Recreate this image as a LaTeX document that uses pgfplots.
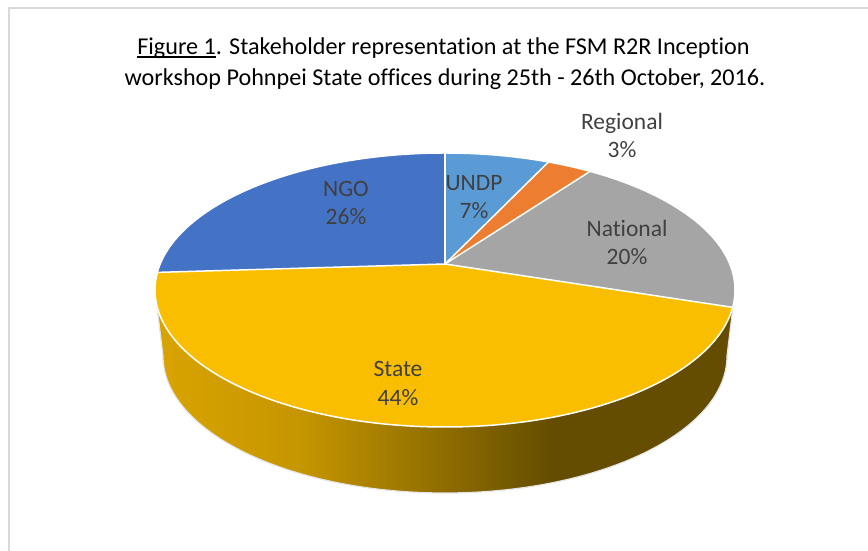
\documentclass[border=0pt]{standalone}
\usepackage{pgfplots}
\pgfplotsset{compat=1.18}
\usepackage{pgfplotstable}
\usepackage{fontspec}
\setmainfont{Carlito}[Ligatures=NoCommon]
\definecolor{cNGO}{HTML}{4472C4}
\definecolor{cUNDP}{HTML}{5B9BD5}
\definecolor{cReg}{HTML}{ED7D31}
\definecolor{cNat}{HTML}{A5A5A5}
\definecolor{cState}{HTML}{FABE00}
\definecolor{labelgray}{HTML}{404040}
\definecolor{framegray}{HTML}{D9D9D9}
\definecolor{edgegray}{HTML}{E4E4E4}
\definecolor{wa}{HTML}{D8A300}
\definecolor{wb}{HTML}{C69600}
\definecolor{wc}{HTML}{8E6C00}
\definecolor{wd}{HTML}{644C00}
\pgfdeclarehorizontalshading{wall}{100bp}{color(0bp)=(wa); color(26bp)=(wa); color(37.5bp)=(wb); color(50bp)=(wc); color(59.5bp)=(wd); color(100bp)=(wd)}

% share of each stakeholder group (percent), clockwise from 12 o'clock,
% with the centre of its label (picture pixels, y measured from the top)
\pgfplotstableread{
name     pct  lx   ly    col
UNDP     7    474  197   cUNDP
Regional 3    622  135.5 cReg
National 20   627  242.5 cNat
State    44   398  383.5 cState
NGO      26   346  203   cNGO
}\piedata

% perspective projection of the pie's rim: point at cumulative percent #1
\newcommand\piepoint[2]{%
  \pgfmathsetmacro\tmpt{3.6*#1}%
  \pgfmathsetmacro\tmpden{1+0.1898*cos(\tmpt)}%
  \pgfmathsetmacro\tmpX{284.7*sin(\tmpt)/\tmpden}%
  \pgfmathsetmacro\tmpY{132.07*cos(\tmpt)/\tmpden}%
  \pgfmathsetmacro\tmpa{445+\tmpX}\expandafter\xdef\csname #2ex\endcsname{\tmpa}%
  \pgfmathsetmacro\tmpa{287+\tmpY}\expandafter\xdef\csname #2ey\endcsname{\tmpa}%
  \pgfmathsetmacro\tmpa{445+4*\tmpX}\expandafter\xdef\csname #2fx\endcsname{\tmpa}%
  \pgfmathsetmacro\tmpa{287+4*\tmpY}\expandafter\xdef\csname #2fy\endcsname{\tmpa}%
}
\newcommand\ulfig[1]{\setbox0\hbox{#1}\rlap{\rule[-2.6pt]{\wd0}{1.3pt}}\box0}

\begin{document}
\begin{tikzpicture}
\begin{axis}[
  width=868pt, height=551pt, scale only axis,
  xmin=0, xmax=868, ymin=0, ymax=551,
  hide axis, clip=false,
]
% chart frame
\draw[framegray, line width=2pt] (axis cs:8.5,0) -- (axis cs:8.5,542.5) -- (axis cs:868,542.5);
% title
\node[anchor=base, font=\fontsize{24.15}{31}\selectfont] at (axis cs:443.5,496) {\ulfig{Figure 1}. Stakeholder representation at the FSM R2R Inception};
\node[anchor=base, font=\fontsize{24.15}{31}\selectfont] at (axis cs:445,465) {workshop Pohnpei State offices during 25th - 26th October, 2016.};

\pgfplotsextra{
  % side wall of the pie
  \shade[shading=wall] (axis cs:155,261) arc[start angle=180, end angle=360, x radius=290pt, y radius=137pt]
     -- (axis cs:727,195) arc[start angle=0, end angle=-180, x radius=282pt, y radius=137pt] -- cycle;
  \draw[edgegray, line width=1.2pt] (axis cs:155,261) -- (axis cs:163,195) arc[start angle=180, end angle=360, x radius=282pt, y radius=137pt] -- (axis cs:735,261);
  % top face slices
  \pgfplotstablegetrowsof{\piedata}
  \pgfmathtruncatemacro{\lastrow}{\pgfplotsretval-1}
  \gdef\cum{0}
  \begin{scope}
    \clip (axis cs:445,261) ellipse [x radius=290pt, y radius=137pt];
    \foreach \r in {0,...,\lastrow}{
      \pgfplotstablegetelem{\r}{pct}\of{\piedata}\let\pct=\pgfplotsretval
      \pgfplotstablegetelem{\r}{col}\of{\piedata}\let\col=\pgfplotsretval
      \pgfmathsetmacro{\pa}{\cum}
      \pgfmathsetmacro{\pb}{\cum+\pct}
      \pgfmathsetmacro{\pmid}{(\pa+\pb)/2}
      \piepoint{\pa}{A}\piepoint{\pmid}{M}\piepoint{\pb}{B}
      \fill[fill=\col] (axis cs:445,287) -- (axis cs:\Afx,\Afy) -- (axis cs:\Mfx,\Mfy) -- (axis cs:\Bfx,\Bfy) -- cycle;
      \xdef\cum{\pb}
    }
  \end{scope}
  \draw[white, line width=1.5pt] (axis cs:445,261) ellipse [x radius=290pt, y radius=137pt];
  \gdef\cum{0}
  \foreach \r in {0,...,\lastrow}{
    \pgfplotstablegetelem{\r}{pct}\of{\piedata}\let\pct=\pgfplotsretval
    \piepoint{\cum}{A}
    \draw[white, line width=1.5pt] (axis cs:445,287) -- (axis cs:\Aex,\Aey);
    \pgfmathsetmacro{\pb}{\cum+\pct}
    \xdef\cum{\pb}
  }
  % data labels
  \foreach \r in {0,...,\lastrow}{
    \pgfplotstablegetelem{\r}{name}\of{\piedata}\let\nm=\pgfplotsretval
    \pgfplotstablegetelem{\r}{pct}\of{\piedata}\let\pct=\pgfplotsretval
    \pgfplotstablegetelem{\r}{lx}\of{\piedata}\let\lx=\pgfplotsretval
    \pgfplotstablegetelem{\r}{ly}\of{\piedata}\let\ly=\pgfplotsretval
    \pgfmathsetmacro{\lyy}{551-\ly}
    \node[text=labelgray, align=center, font=\fontsize{23.5}{28.5}\selectfont] at (axis cs:\lx,\lyy) {\nm\\\pct\%};
  }
}
\end{axis}
\pgfresetboundingbox
\path[use as bounding box] (0,0) rectangle (868pt,551pt);
\end{tikzpicture}
\end{document}
